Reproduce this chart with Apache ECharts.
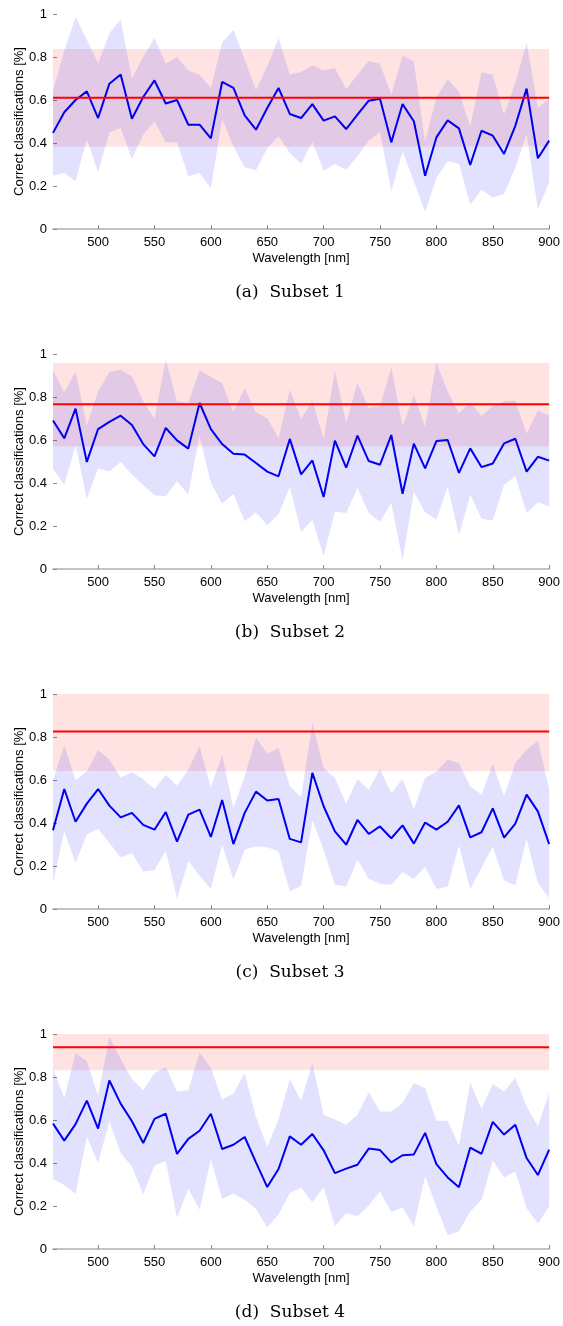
<!DOCTYPE html>
<html>
<head>
<meta charset="utf-8">
<script src="https://cdn.jsdelivr.net/npm/echarts@6/dist/echarts.min.js"></script>
<style>
html,body{margin:0;padding:0;background:#fff;}
#chart{width:563px;height:1326px;}
</style>
</head>
<body>
<div id="chart"></div>
<script>
const wavelengths = [460,470,480,490,500,510,520,530,540,550,560,570,580,590,600,610,620,630,640,650,660,670,680,690,700,710,720,730,740,750,760,770,780,790,800,810,820,830,840,850,860,870,880,890,900];
const xTicks = [500,550,600,650,700,750,800,850,900];
const captions = ['(a)  Subset 1','(b)  Subset 2','(c)  Subset 3','(d)  Subset 4'];

const mean1 = [0.447,0.543,0.60,0.64,0.516,0.676,0.719,0.513,0.614,0.691,0.584,0.60,0.485,0.485,0.422,0.684,0.656,0.529,0.462,0.563,0.656,0.535,0.516,
  0.581,0.504,0.524,0.465,0.532,0.597,0.606,0.403,0.581,0.501,0.248,0.426,0.505,0.468,0.298,0.457,0.434,0.349,0.48,0.653,0.329,0.411];
const upper1 = [0.64,0.83,0.986,0.88,0.77,0.91,0.974,0.70,0.80,0.888,0.77,0.80,0.736,0.718,0.656,0.868,0.927,0.788,0.645,0.757,0.888,0.718,0.73,
  0.761,0.738,0.749,0.651,0.718,0.783,0.769,0.625,0.806,0.78,0.408,0.614,0.695,0.64,0.478,0.729,0.718,0.532,0.679,0.868,0.563,0.605];
const lower1 = [0.248,0.26,0.222,0.416,0.264,0.45,0.47,0.326,0.439,0.50,0.403,0.403,0.245,0.26,0.189,0.512,0.384,0.287,0.273,0.377,0.431,0.353,0.304,
  0.405,0.271,0.302,0.276,0.338,0.412,0.45,0.175,0.361,0.222,0.079,0.237,0.315,0.304,0.113,0.183,0.147,0.163,0.284,0.443,0.09,0.217];

const mean2 = [0.691,0.608,0.746,0.498,0.651,0.684,0.713,0.67,0.581,0.524,0.656,0.598,0.56,0.772,0.651,0.581,0.536,0.532,0.493,0.453,0.431,0.605,0.44,
  0.505,0.335,0.597,0.471,0.62,0.502,0.485,0.623,0.35,0.583,0.468,0.595,0.60,0.447,0.561,0.474,0.491,0.584,0.606,0.453,0.522,0.504];
const upper2 = [0.924,0.822,0.919,0.671,0.826,0.916,0.927,0.896,0.78,0.699,0.974,0.78,0.772,0.924,0.893,0.865,0.729,0.842,0.729,0.702,0.609,0.834,0.699,
  0.784,0.605,0.922,0.679,0.868,0.749,0.757,0.938,0.664,0.811,0.66,0.961,0.826,0.726,0.775,0.713,0.757,0.78,0.783,0.629,0.738,0.713];
const lower2 = [0.465,0.392,0.574,0.327,0.467,0.454,0.498,0.439,0.389,0.343,0.338,0.408,0.346,0.62,0.40,0.304,0.349,0.222,0.264,0.203,0.253,0.381,0.171,
  0.229,0.059,0.268,0.26,0.377,0.26,0.219,0.307,0.04,0.358,0.264,0.229,0.384,0.155,0.346,0.234,0.226,0.392,0.431,0.26,0.31,0.291];

const mean3 = [0.366,0.558,0.406,0.49,0.558,0.481,0.426,0.447,0.391,0.369,0.451,0.313,0.439,0.462,0.335,0.507,0.302,0.447,0.546,0.505,0.512,0.326,0.31,
  0.633,0.478,0.361,0.299,0.414,0.349,0.384,0.329,0.389,0.304,0.402,0.369,0.406,0.482,0.333,0.357,0.468,0.332,0.397,0.532,0.454,0.302];
const upper3 = [0.60,0.76,0.60,0.64,0.738,0.695,0.612,0.636,0.605,0.558,0.625,0.574,0.648,0.757,0.567,0.718,0.47,0.617,0.798,0.722,0.749,0.571,0.52,
  0.865,0.656,0.609,0.49,0.605,0.555,0.651,0.54,0.606,0.465,0.609,0.64,0.695,0.679,0.571,0.532,0.676,0.524,0.679,0.741,0.783,0.558];
const lower3 = [0.121,0.361,0.214,0.346,0.372,0.307,0.24,0.26,0.175,0.18,0.271,0.048,0.222,0.155,0.093,0.299,0.136,0.276,0.291,0.287,0.268,0.082,0.107,
  0.412,0.276,0.113,0.105,0.229,0.141,0.118,0.113,0.172,0.14,0.195,0.093,0.105,0.295,0.093,0.191,0.291,0.133,0.109,0.327,0.121,0.051];

const mean4 = [0.583,0.504,0.581,0.69,0.56,0.784,0.676,0.594,0.493,0.605,0.629,0.442,0.512,0.55,0.629,0.465,0.485,0.521,0.403,0.288,0.372,0.524,0.485,
  0.535,0.459,0.353,0.374,0.392,0.467,0.46,0.403,0.436,0.44,0.54,0.395,0.333,0.287,0.471,0.443,0.591,0.532,0.578,0.423,0.344,0.462];
const upper4 = [0.842,0.702,0.912,0.873,0.713,0.986,0.884,0.791,0.738,0.819,0.847,0.733,0.738,0.915,0.842,0.695,0.722,0.819,0.614,0.474,0.605,0.791,0.69,
  0.865,0.625,0.602,0.578,0.625,0.729,0.64,0.64,0.679,0.772,0.749,0.597,0.597,0.481,0.775,0.651,0.769,0.733,0.795,0.664,0.571,0.726];
const lower4 = [0.327,0.296,0.257,0.521,0.40,0.594,0.447,0.384,0.253,0.388,0.408,0.144,0.279,0.183,0.416,0.233,0.257,0.229,0.186,0.101,0.16,0.26,0.285,
  0.217,0.287,0.105,0.167,0.152,0.202,0.268,0.172,0.194,0.105,0.338,0.198,0.064,0.082,0.175,0.229,0.412,0.333,0.361,0.191,0.118,0.198];

const refMean  = [0.61, 0.766, 0.826, 0.938];
const refLower = [0.384, 0.571, 0.642, 0.831];
const refUpper = [0.837, 0.958, 1.0, 1.0];

const means = [mean1, mean2, mean3, mean4];
const uppers = [upper1, upper2, upper3, upper4];
const lowers = [lower1, lower2, lower3, lower4];

const chart = echarts.init(document.getElementById('chart'), null, {renderer:'canvas'});
const FONT = '"Liberation Sans", Arial, sans-serif';
const grids = [], xAxes = [], yAxes = [], series = [], graphics = [];
const PANEL_STEP = 340, TOP0 = 14, PH = 215;

for (let k = 0; k < 4; k++) {
  const top = TOP0 + PANEL_STEP * k;
  grids.push({left: 53, top: top, width: 498, height: PH, containLabel: false});
  xAxes.push({
    type: 'value', gridIndex: k, min: 460, max: 900,
    name: 'Wavelength [nm]', nameLocation: 'middle', nameGap: 23, nameMoveOverlap: false,
    nameTextStyle: {fontFamily: FONT, fontSize: 13, color: '#000'},
    axisLine: {show: true, lineStyle: {color: '#c4c4c4', width: 2}},
    axisTick: {show: true, inside: true, length: 4, lineStyle: {color: '#888', width: 1}, customValues: xTicks},
    axisLabel: {fontFamily: FONT, fontSize: 13, color: '#000', margin: 7, customValues: xTicks},
    splitLine: {show: false}
  });
  yAxes.push({
    type: 'value', gridIndex: k, min: 0, max: 1, interval: 0.2,
    name: 'Correct classifications [%]', nameLocation: 'middle', nameGap: 27, nameMoveOverlap: false,
    nameTextStyle: {fontFamily: FONT, fontSize: 13, color: '#000'},
    axisLine: {show: false},
    axisTick: {show: true, inside: true, length: 4, lineStyle: {color: '#888', width: 1}},
    axisLabel: {fontFamily: FONT, fontSize: 13, color: '#000', margin: 6},
    splitLine: {show: false}
  });
  const wl = wavelengths, up = uppers[k], lo = lowers[k];
  series.push({
    type: 'line', xAxisIndex: k, yAxisIndex: k, silent: true,
    data: [], z: 1,
    markArea: {silent: true, itemStyle: {color: 'rgba(255,0,0,0.11)'},
      data: [[{yAxis: refLower[k]}, {yAxis: refUpper[k]}]]}
  });
  series.push({
    type: 'custom', xAxisIndex: k, yAxisIndex: k, silent: true, z: 2,
    data: wl.map((w, i) => [w, up[i], lo[i]]),
    encode: {x: 0, y: [1, 2]},
    renderItem: function (params, api) {
      if (params.dataIndexInside !== 0) return null;
      const pts = [];
      for (let i = 0; i < wl.length; i++) pts.push(api.coord([wl[i], up[i]]));
      for (let i = wl.length - 1; i >= 0; i--) pts.push(api.coord([wl[i], lo[i]]));
      return {type: 'polygon', shape: {points: pts}, style: {fill: 'rgba(0,0,255,0.115)', stroke: null}};
    }
  });
  series.push({
    type: 'line', xAxisIndex: k, yAxisIndex: k, silent: true, z: 3,
    data: wl.map((w, i) => [w, means[k][i]]),
    symbol: 'none', lineStyle: {color: '#0000f0', width: 2}, animation: false
  });
  series.push({
    type: 'line', xAxisIndex: k, yAxisIndex: k, silent: true, z: 4,
    data: [[460, refMean[k]], [900, refMean[k]]],
    symbol: 'none', lineStyle: {color: '#ff0000', width: 2}, animation: false
  });
  graphics.push({
    type: 'text', x: 290, y: 293 + PANEL_STEP * k,
    style: {text: captions[k], font: '17px "DejaVu Serif"', fill: '#000', textAlign: 'center', textVerticalAlign: 'middle'}
  });
}

chart.setOption({
  backgroundColor: '#fff',
  animation: false,
  grid: grids, xAxis: xAxes, yAxis: yAxes, series: series,
  graphic: graphics
});
</script>
</body>
</html>
